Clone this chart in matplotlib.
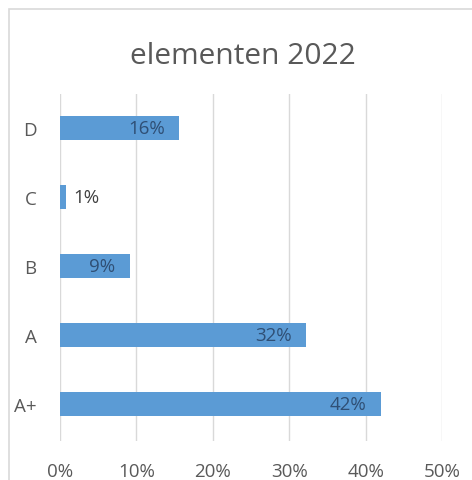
import matplotlib
matplotlib.use("Agg")
import matplotlib.pyplot as plt
from matplotlib.patches import Rectangle
from matplotlib.ticker import FuncFormatter

categories = ["A+", "A", "B", "C", "D"]
values = [42.0, 32.2, 9.1, 0.8, 15.6]
labels = ["42%", "32%", "9%", "1%", "16%"]
xticks = [0, 10, 20, 30, 40, 50]

plt.rcParams['font.family'] = ['Open Sans', 'DejaVu Sans']

fig = plt.figure(figsize=(4.72, 4.81), dpi=100)
fig.patch.set_facecolor("white")
fig.patches.append(Rectangle((9/472, -0.1), 1.0, 1 - 10/481 + 0.1, transform=fig.transFigure,
                             fill=False, edgecolor="#D9D9D9", linewidth=1.2, zorder=0))

ax = fig.add_axes([60/472, 1 - 442/481, (442 - 60)/472, (442 - 95)/481])
ypos = list(range(len(categories)))
ax.barh(ypos, values, height=0.35, color="#5B9BD5", zorder=3)

for y, v, lab in zip(ypos, values, labels):
    if v < 3:
        ax.text(v + 1.0, y, lab, va="center", ha="left", fontsize=13.5, color="#404040", zorder=4)
    else:
        ax.text(v - 1.9, y, lab, va="center", ha="right", fontsize=13.5, color="#2F4F75", zorder=4)

ax.set_xlim(0, 50)
ax.set_ylim(-0.54, 4.49)
ax.set_xticks(xticks)
ax.xaxis.set_major_formatter(FuncFormatter(lambda x, p: f"{x:.0f}%"))
ax.set_yticks(ypos)
ax.set_yticklabels(categories)
ax.grid(axis="x", color="#D9D9D9", linewidth=1, zorder=0)
for s in ax.spines.values():
    s.set_visible(False)
ax.tick_params(axis="both", length=0, labelsize=13.5, labelcolor="#595959")
ax.tick_params(axis="x", pad=15)
ax.tick_params(axis="y", pad=17)

fig.text(243/472, 1 - 56/481, "elementen 2022", ha="center", va="center", fontsize=21.5, color="#595959")

fig.savefig("out.png", dpi=100)
